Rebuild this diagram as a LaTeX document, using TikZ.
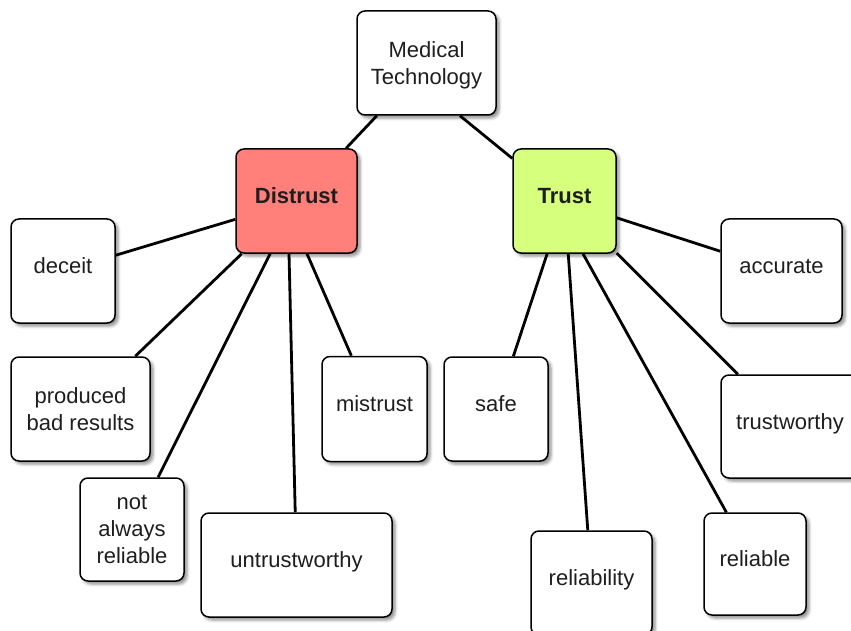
\documentclass[tikz,border=0pt]{standalone}
\usepackage{fontspec}
\setmainfont{Liberation Sans}
\usetikzlibrary{shadows.blur}
\definecolor{distrustred}{RGB}{255,128,122}
\definecolor{trustgreen}{RGB}{213,255,125}
\definecolor{textgray}{RGB}{30,30,30}
\tikzset{
  box/.style={draw=black, line width=1.5pt, rounded corners=8pt, fill=white,
    inner sep=0pt, align=center, text=textgray, font=\fontsize{22}{27}\selectfont,
    blur shadow={shadow xshift=3pt, shadow yshift=-3pt, shadow blur radius=3pt, shadow opacity=45}},
  oneline/.style={text height=16pt, text depth=11pt},
  conn/.style={draw=black, line width=2.8pt},
}
\begin{document}
\begin{tikzpicture}[x=1pt,y=-1pt]
\useasboundingbox (0,0) rectangle (851,631);
% nodes
\node[box, text height=49pt, text depth=5pt, minimum width=139pt, minimum height=104pt] (mt) at (426.5,63) {Medical\\Technology};
\node[box, oneline, fill=distrustred, minimum width=121pt, minimum height=104pt, font=\fontsize{22}{27}\selectfont\bfseries] (distrust) at (296.5,201) {Distrust};
\node[box, oneline, fill=trustgreen, minimum width=103pt, minimum height=104pt, font=\fontsize{22}{27}\selectfont\bfseries] (trust) at (564.5,201) {Trust};
\node[box, oneline, minimum width=104pt, minimum height=104pt] (deceit) at (63,271) {deceit};
\node[box, minimum width=139pt, minimum height=104pt] (produced) at (80.5,409) {produced\\bad results};
\node[box, minimum width=104pt, minimum height=103pt] (notalways) at (132,529.5) {not\\always\\reliable};
\node[box, oneline, minimum width=191pt, minimum height=104pt] (untrust) at (296.5,565) {untrustworthy};
\node[box, oneline, minimum width=105pt, minimum height=105pt] (mistrust) at (374.5,409) {mistrust};
\node[box, oneline, minimum width=104pt, minimum height=104pt] (safe) at (496,409) {safe};
\node[box, oneline, minimum width=121pt, minimum height=104pt] (reliability) at (591.5,583) {reliability};
\node[box, oneline, minimum width=102pt, minimum height=102pt] (reliable) at (755,564) {reliable};
\node[box, oneline, minimum width=138pt, minimum height=103pt] (trustworthy) at (790,426.5) {trustworthy};
\node[box, oneline, minimum width=121pt, minimum height=104pt] (accurate) at (781.5,271) {accurate};
% connectors
\draw[conn] (mt) -- (distrust);
\draw[conn] ([xshift=33.5pt]mt.south) -- (trust);
\draw[conn] (distrust) -- (deceit);
\draw[conn] (distrust) -- (produced);
\draw[conn] (distrust) -- (notalways);
\draw[conn] ([xshift=-7.5pt]distrust.south) -- (untrust);
\draw[conn] ([xshift=10.5pt]distrust.south) -- (mistrust);
\draw[conn] (trust) -- (safe);
\draw[conn] (trust) -- (reliability);
\draw[conn] ([xshift=18.5pt]trust.south) -- (reliable);
\draw[conn] (trust) -- (trustworthy);
\draw[conn] (trust) -- (accurate);
\end{tikzpicture}
\end{document}
